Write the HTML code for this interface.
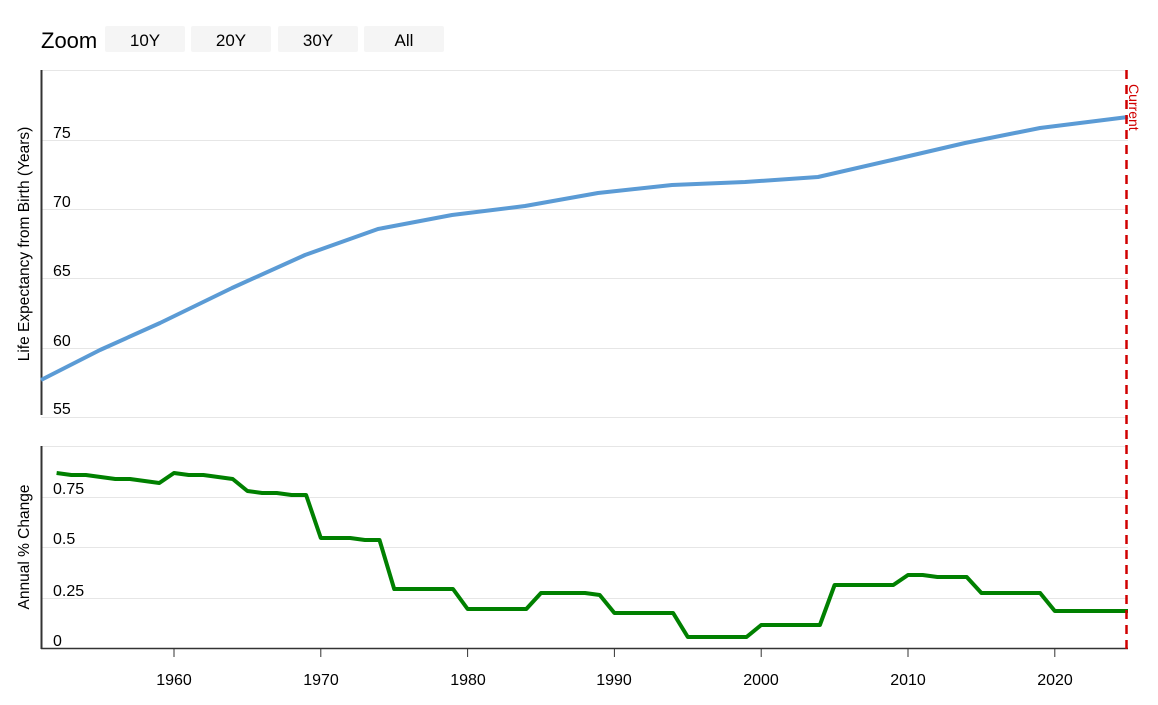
<!DOCTYPE html>
<html><head><meta charset="utf-8"><style>
html,body{margin:0;padding:0;background:#fff;}
body{width:1158px;height:700px;overflow:hidden;font-family:"Liberation Sans",sans-serif;}
</style></head><body>
<svg width="1158" height="700" xmlns="http://www.w3.org/2000/svg" font-family="Liberation Sans, sans-serif">
<text x="41" y="48" font-size="22" fill="#000">Zoom</text>
<g font-size="17" fill="#000" text-anchor="middle">
<rect x="105" y="26" width="80" height="26" rx="2" fill="#f5f5f5"/><text x="145" y="46">10Y</text>
<rect x="191" y="26" width="80" height="26" rx="2" fill="#f5f5f5"/><text x="231" y="46">20Y</text>
<rect x="278" y="26" width="80" height="26" rx="2" fill="#f5f5f5"/><text x="318" y="46">30Y</text>
<rect x="364" y="26" width="80" height="26" rx="2" fill="#f5f5f5"/><text x="404" y="46">All</text>
</g>
<g stroke="#e6e6e6" stroke-width="1">
<line x1="41" x2="1128" y1="70.5" y2="70.5"/><line x1="41" x2="1128" y1="140.5" y2="140.5"/><line x1="41" x2="1128" y1="209.5" y2="209.5"/><line x1="41" x2="1128" y1="278.5" y2="278.5"/><line x1="41" x2="1128" y1="348.5" y2="348.5"/><line x1="41" x2="1128" y1="417.5" y2="417.5"/>
<line x1="41" x2="1128" y1="446.5" y2="446.5"/><line x1="41" x2="1128" y1="497.5" y2="497.5"/><line x1="41" x2="1128" y1="547.5" y2="547.5"/><line x1="41" x2="1128" y1="598.5" y2="598.5"/>
</g>
<line x1="41.5" x2="41.5" y1="70" y2="415" stroke="#333" stroke-width="2"/>
<line x1="41.5" x2="41.5" y1="446" y2="649" stroke="#333" stroke-width="2"/>
<line x1="41" x2="1128" y1="648.5" y2="648.5" stroke="#333" stroke-width="1.5"/>
<g font-size="16" fill="#000">
<text x="53" y="138">75</text><text x="53" y="207">70</text><text x="53" y="276">65</text><text x="53" y="346">60</text><text x="53" y="414">55</text>
<text x="53" y="494">0.75</text><text x="53" y="544">0.5</text><text x="53" y="596">0.25</text><text x="53" y="646">0</text>
</g>
<g stroke="#333" stroke-width="1"><line x1="174" x2="174" y1="649" y2="657"/><line x1="320.8" x2="320.8" y1="649" y2="657"/><line x1="467.6" x2="467.6" y1="649" y2="657"/><line x1="614.4" x2="614.4" y1="649" y2="657"/><line x1="761.2" x2="761.2" y1="649" y2="657"/><line x1="908" x2="908" y1="649" y2="657"/><line x1="1054.8" x2="1054.8" y1="649" y2="657"/></g>
<g font-size="16" fill="#000" text-anchor="middle">
<text x="174" y="685">1960</text><text x="321" y="685">1970</text><text x="468" y="685">1980</text><text x="614" y="685">1990</text><text x="761" y="685">2000</text><text x="908" y="685">2010</text><text x="1055" y="685">2020</text>
</g>
<text transform="translate(29,244) rotate(-90)" font-size="15.5" text-anchor="middle" fill="#000">Life Expectancy from Birth (Years)</text>
<text transform="translate(29,547) rotate(-90)" font-size="15.5" text-anchor="middle" fill="#000">Annual % Change</text>
<polyline fill="none" stroke="#5b9bd5" stroke-width="4" stroke-linejoin="round" points="41,380 100,350 160,323 232,288 305,255 378,229 452,215 525,206 598,193 672,185 745,182 818,177 892,160 965,143 1040,128 1128,117"/>
<polyline fill="none" stroke="#008000" stroke-width="4" stroke-linejoin="round" points="56.6,473 71.3,475 85.9,475 115.3,479 130,479 159.3,483 174,473 188.7,475 203.4,475 232.7,479 247.4,491 262.1,493 276.8,493 291.5,495 306.1,495 320.8,538 350.2,538 364.9,540 379.5,540 394.2,589 453,589 467.6,609 526.3,609 541,593 585,593 599.7,595 614.4,613 673.1,613 687.8,637 746.5,637 761.2,625 819.9,625 834.6,585 893.3,585 908,575 922.7,575 937.4,577 966.7,577 981.4,593 1040.1,593 1054.8,611 1128,611"/>
<line x1="1126.5" x2="1126.5" y1="70" y2="650" stroke="#d00000" stroke-width="2.5" stroke-dasharray="9,6"/>
<text transform="translate(1129,84) rotate(90)" font-size="14" fill="#d00000">Current</text>
</svg>
</body></html>
